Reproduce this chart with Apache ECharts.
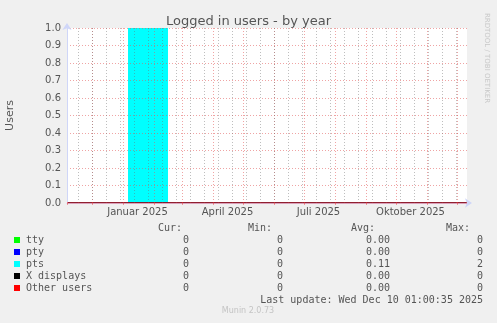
<!DOCTYPE html>
<html><head><meta charset="utf-8">
<script src="https://cdn.jsdelivr.net/npm/echarts@6/dist/echarts.min.js"></script>
<style>html,body{margin:0;padding:0;background:#f0f0f0;}#c{width:497px;height:323px;}</style>
</head><body><div id="c"></div>
<script>
// ---- data ----
const seriesNames = ['tty', 'pty', 'pts', 'X displays', 'Other users'];
const seriesColors = ['#00ff00', '#0000ff', '#00ffff', '#000000', '#ff0000'];
const changeDates = ['2024-11-06T00:00:00Z', '2025-01-06T00:00:00Z', '2025-02-15T00:00:00Z', '2025-12-11T00:00:00Z'];
const ttyValues = [0, 0, 0, 0];
const ptyValues = [0, 0, 0, 0];
const ptsValues = [0, 1, 0, 0];
const xdisplayValues = [0, 0, 0, 0];
const otherValues = [0, 0, 0, 0];
const curValues = ['0', '0', '0', '0', '0'];
const minValues = ['0', '0', '0', '0', '0'];
const avgValues = ['0.00', '0.00', '0.11', '0.00', '0.00'];
const maxValues = ['0', '0', '2', '0', '0'];
const monthNames = ['Januar', 'Februar', 'März', 'April', 'Mai', 'Juni', 'Juli', 'August', 'September', 'Oktober', 'November', 'Dezember'];
const labelMonths = [0, 3, 6, 9];
const xStart = '2024-11-06T00:00:00Z';
const xEnd = '2025-12-11T00:00:00Z';
const yMin = 0, yMax = 1, yStep = 0.1;
const minorGridDays = 14;
const lastUpdate = 'Last update: Wed Dec 10 01:00:35 2025';

// ---- chart ----
const allValues = [ttyValues, ptyValues, ptsValues, xdisplayValues, otherValues];
const chart = echarts.init(document.getElementById('c'), null, {renderer: 'canvas'});
const DAY = 86400000;
const t0 = Date.parse(xStart), t1 = Date.parse(xEnd);
const gridL = 67, gridT = 28, gridW = 400, gridH = 175;
const minorOff = 11; // first minor line offset (days) from start (Monday)
const minorSpan = Math.floor((gridW - minorOff) / minorGridDays) * minorGridDays;

const FONT = 'DejaVu Sans';
const MONO = 'DejaVu Sans Mono';
const txtColor = '#555';
const red = 'rgba(225,90,90,0.55)';
const gray = 'rgba(110,110,110,0.45)';
const axisBlue = '#cfd6f8';

const series = seriesNames.map((name, i) => {
  const s = {
    name, type: 'line', step: 'end', symbol: 'none',
    xAxisIndex: 0, yAxisIndex: 0,
    data: changeDates.map((d, k) => [Date.parse(d), allValues[i][k]]),
    lineStyle: {color: seriesColors[i], width: 1},
    itemStyle: {color: seriesColors[i]},
    z: 2, animation: false
  };
  if (name === 'pts') {
    s.areaStyle = {color: seriesColors[i], opacity: 1};
    s.lineStyle = {width: 0};
  }
  if (name === 'Other users') s.z = 10;
  return s;
});

const graphic = [];
const rowY = [240, 252, 264, 276, 288];
const headY = 228;
const cols = [
  {h: 'Cur:', hx: 182, vx: 189, vals: curValues},
  {h: 'Min:', hx: 272, vx: 283, vals: minValues},
  {h: 'Avg:', hx: 375, vx: 390, vals: avgValues},
  {h: 'Max:', hx: 470, vx: 483, vals: maxValues}
];
const tstyle = (x, y, text, align, extra) => Object.assign({
  type: 'text', x, y,
  style: Object.assign({text, fill: txtColor, font: '10px ' + MONO, align, verticalAlign: 'middle'}, extra || {})
});
cols.forEach(c => {
  graphic.push(tstyle(c.hx, headY, c.h, 'right'));
  c.vals.forEach((v, i) => graphic.push(tstyle(c.vx, rowY[i], v, 'right')));
});
seriesNames.forEach((n, i) => {
  graphic.push({type: 'rect', shape: {x: 14, y: rowY[i] - 3, width: 6, height: 6}, style: {fill: seriesColors[i]}});
  graphic.push(tstyle(26, rowY[i], n, 'left'));
});
graphic.push(tstyle(483, 300, lastUpdate, 'right'));
graphic.push({type: 'text', x: 248, y: 311, style: {text: 'Munin 2.0.73', fill: '#c4c4c4', font: '8px ' + FONT, align: 'center', verticalAlign: 'middle'}});
graphic.push({type: 'text', x: 487, y: 58, rotation: -Math.PI / 2, style: {text: 'RRDTOOL / TOBI OETIKER', fill: '#c8c8c8', font: '7px ' + FONT, align: 'center', verticalAlign: 'middle'}});

const option = {
  backgroundColor: '#f0f0f0',
  animation: false,
  useUTC: true,
  title: {
    text: 'Logged in users - by year', left: 'center', top: 10,
    textStyle: {fontFamily: FONT, fontSize: 13, fontWeight: 'normal', color: txtColor}
  },
  grid: [
    {left: gridL, top: gridT, width: gridW, height: gridH, show: true, backgroundColor: '#ffffff', borderWidth: 0, outerBoundsMode: 'none', containLabel: false},
    {left: gridL + minorOff, top: gridT, width: minorSpan, height: gridH, show: false, outerBoundsMode: 'none', containLabel: false}
  ],
  xAxis: [
    {
      type: 'time', gridIndex: 0, min: t0, max: t1, splitNumber: 13,
      minInterval: 28 * DAY, maxInterval: 31 * DAY, z: 3,
      axisLine: {show: true, lineStyle: {color: axisBlue, width: 1}, symbol: ['none', 'arrow'], symbolSize: [7, 7], symbolOffset: [0, 5]},
      axisTick: {show: true, length: 2, lineStyle: {color: red}},
      splitLine: {show: true, showMinLine: false, showMaxLine: false, lineStyle: {color: red, type: [1, 2], width: 1}},
      axisLabel: {
        show: true, interval: 0, hideOverlap: false, margin: 4,
        color: txtColor, fontFamily: FONT, fontSize: 10, padding: [0, 0, 0, 29],
        showMinLabel: true, showMaxLabel: true,
        formatter: function (v) {
          const d = new Date(v);
          if (d.getUTCDate() === 1 && d.getUTCHours() === 0 && labelMonths.indexOf(d.getUTCMonth()) >= 0) {
            return monthNames[d.getUTCMonth()] + ' ' + d.getUTCFullYear();
          }
          return '';
        }
      }
    },
    {
      type: 'value', gridIndex: 1, min: 0, max: minorSpan, interval: minorGridDays, z: 3,
      axisLine: {show: false}, axisTick: {show: false}, axisLabel: {show: false},
      splitLine: {show: true, lineStyle: {color: gray, type: [1, 2], width: 1}}
    }
  ],
  yAxis: [
    {
      type: 'value', gridIndex: 0, min: yMin, max: yMax, interval: yStep, z: 3,
      name: 'Users', nameLocation: 'middle', nameGap: 51,
      nameTextStyle: {fontFamily: FONT, fontSize: 11, color: txtColor},
      axisLine: {show: true, lineStyle: {color: axisBlue, width: 1}, symbol: ['none', 'arrow'], symbolSize: [7, 7], symbolOffset: [0, 5]},
      axisTick: {show: false},
      splitLine: {show: true, lineStyle: {color: red, type: [1, 2], width: 1}},
      axisLabel: {color: txtColor, fontFamily: FONT, fontSize: 10, margin: 6, formatter: v => v.toFixed(1)}
    },
    {type: 'value', gridIndex: 1, min: 0, max: 1, show: false, splitLine: {show: false}}
  ],
  series,
  graphic
};
chart.setOption(option);
</script>
</body></html>
